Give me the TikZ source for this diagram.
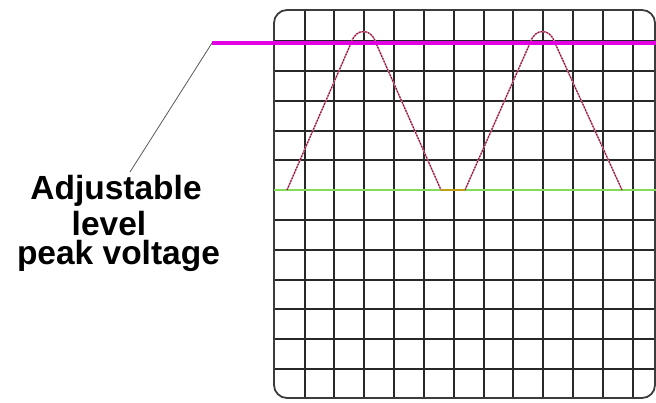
\documentclass[tikz,border=0pt]{standalone}
\usepackage{fontspec}
\setmainfont{Liberation Sans}
\begin{document}
\begin{tikzpicture}[x=1pt,y=-1pt,
  gridline/.style={draw={rgb,255:red,40;green,40;blue,40},line width=2pt},
  frame/.style={draw={rgb,255:red,60;green,60;blue,60},line width=1.8pt,rounded corners=13pt},
  levelline/.style={draw={rgb,255:red,225;green,0;blue,225},line width=3.6pt},
  baseline0/.style={draw={rgb,255:red,130;green,220;blue,90},line width=2pt},
  wavebase/.style={draw={rgb,255:red,225;green,130;blue,160},line width=1.4pt,line join=round},
  wavedash/.style={draw={rgb,255:red,130;green,20;blue,50},line width=1.1pt,dash pattern=on 1.6pt off 1.4pt,line join=round},
  flatseg/.style={draw={rgb,255:red,190;green,160;blue,20},line width=2.2pt},
  leader/.style={draw={rgb,255:red,90;green,90;blue,90},line width=0.8pt},
  lbl/.style={font=\fontsize{33.5}{33.5}\selectfont\bfseries,anchor=base,inner sep=0pt,text=black}]
\useasboundingbox (0,0) rectangle (656,403);
\fill[white] (0,0) rectangle (656,403);
% grid
\foreach \i in {0,...,11}{
  \draw[gridline] ({304.5+\i*29.85},10) -- ({304.5+\i*29.85},398);
  \draw[gridline] (274,{41.2+\i*29.8}) -- (655,{41.2+\i*29.8});
}
\draw[frame] (274,10) rectangle (655,398);
% zero line
\coordinate (gl) at (274,190);
\coordinate (gr) at (656,190);
\draw[baseline0] (gl) -- (gr);
% waveform
\coordinate (w0) at (287,190);
\coordinate (w1) at (351.5,42);
\coordinate (w2) at (375.5,42);
\coordinate (w3) at (441,190);
\coordinate (w4) at (465,190);
\coordinate (w5) at (530.5,42);
\coordinate (w6) at (554.5,42);
\coordinate (w7) at (622,190);
\foreach \s in {wavebase,wavedash}{
\draw[\s] (w0) -- (w1) .. controls (356,28) and (371,28) .. (w2) -- (w3);
\draw[\s] (w4) -- (w5) .. controls (535,28) and (550,28) .. (w6) -- (w7);
}
\draw[flatseg] (w3) -- (w4);
% adjustable level line
\coordinate (ml) at (212,43);
\coordinate (mr) at (656,43);
\draw[levelline] (ml) -- (mr);
% labels
\node[lbl] (t1) at (116,200) {Adjustable};
\node[lbl] (t2) at (109,236) {level};
\node[lbl] (t3) at (118.5,265) {peak voltage};
\coordinate (le) at (130,172);
\draw[leader] (ml) -- (le);
\end{tikzpicture}
\end{document}
